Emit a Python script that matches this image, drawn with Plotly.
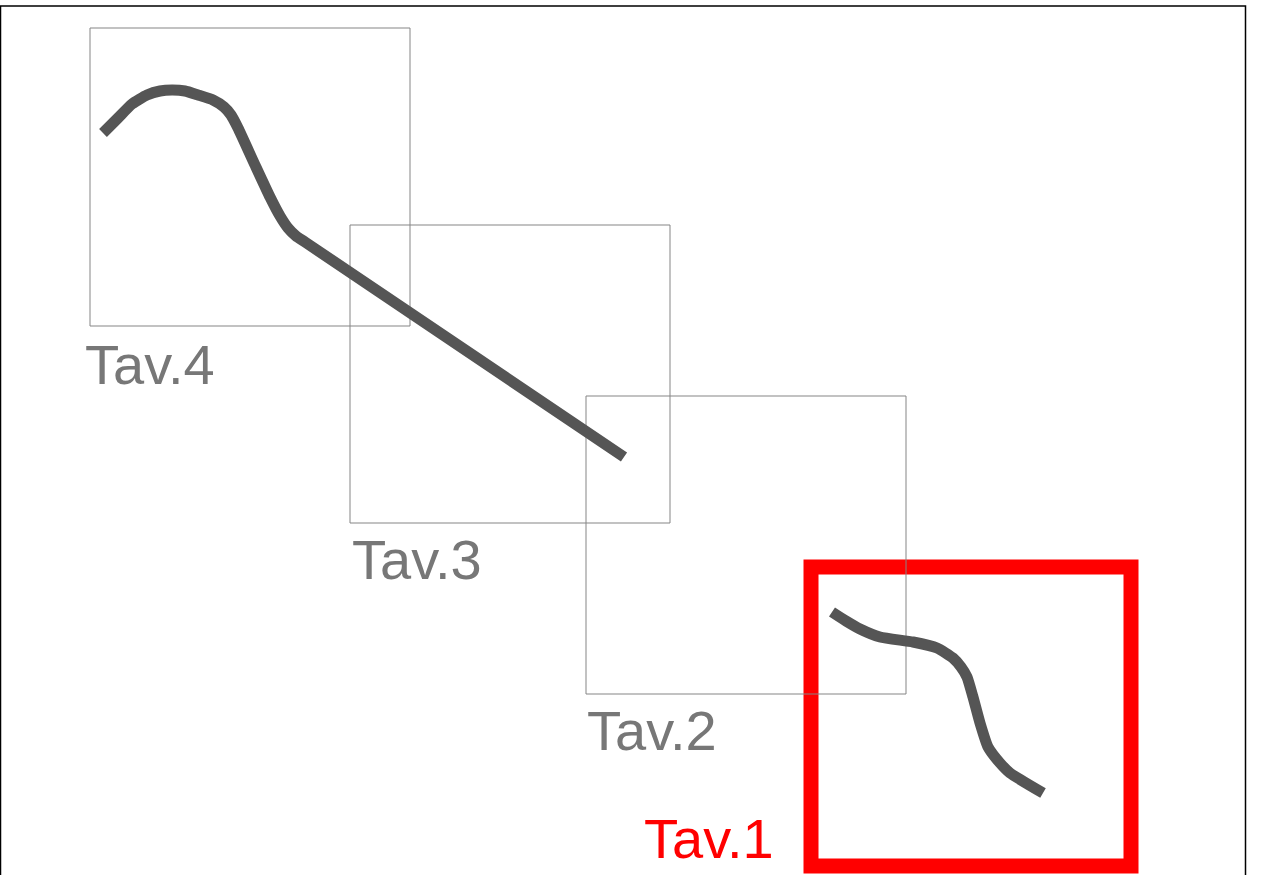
import plotly.graph_objects as go

# Map sheets (tavole): name, left, top, right, bottom in map units (y grows downward)
sheet_names = ["Tav.1", "Tav.2", "Tav.3", "Tav.4"]
sheet_x0 = [811, 586, 350, 90]
sheet_y0 = [567, 396, 225, 28]
sheet_x1 = [1131, 906, 670, 410]
sheet_y1 = [866, 694, 523, 326]
sheet_selected = [True, False, False, False]
# Label anchor points (left edge / vertical middle of the label), map units
label_x = [644, 587, 352, 85]
label_y = [838, 730, 559, 364]

# Route, first part (through Tav.4 and Tav.3)
route_a_x = [103, 118, 132, 147, 160, 172, 185, 198, 213, 224, 231, 238, 255, 270, 280, 288, 296, 305, 624]
route_a_y = [133, 118, 104, 95, 91, 90, 91, 95, 100, 107, 115, 128, 165, 197, 216, 228, 236, 242, 457]

# Route, second part (inside Tav.1)
route_b_x = [832, 846, 860, 880, 913, 937, 953, 961, 967, 973, 980, 988, 1000, 1010, 1043]
route_b_y = [612, 621, 629, 637, 642, 648, 658, 667, 677, 697, 723, 747, 763, 773, 793]

# Map frame extent
frame_x = [0.5, 1245.5]
frame_y = [6, 1000]

W, H = 1271, 875
GRAY_TXT = "#777777"
GRAY_BOX = "#858585"
RED = "#ff0000"
ROUTE = "#555555"

fig = go.Figure()
for xs, ys in [(route_a_x, route_a_y), (route_b_x, route_b_y)]:
    fig.add_trace(go.Scatter(x=xs, y=ys, mode="lines",
                             line=dict(color=ROUTE, width=11, shape="spline", smoothing=0.5),
                             hoverinfo="skip", showlegend=False))

shapes = []
annotations = []
for name, x0, y0, x1, y1, sel, lx, ly in zip(sheet_names, sheet_x0, sheet_y0, sheet_x1, sheet_y1,
                                             sheet_selected, label_x, label_y):
    shapes.append(dict(type="rect", xref="x", yref="y", x0=x0, y0=y0, x1=x1, y1=y1,
                       line=dict(color=RED if sel else GRAY_BOX, width=15 if sel else 1),
                       fillcolor="rgba(0,0,0,0)", layer="below"))
    annotations.append(dict(x=lx - 2, y=ly, xref="x", yref="y", text=name, showarrow=False,
                            xanchor="left", yanchor="middle",
                            font=dict(family="Liberation Sans, Arial, sans-serif", size=56,
                                      color=RED if sel else GRAY_TXT)))

shapes.append(dict(type="rect", xref="x", yref="y", x0=frame_x[0], x1=frame_x[1],
                   y0=frame_y[0], y1=frame_y[1], line=dict(color="#000000", width=1.5),
                   fillcolor="rgba(0,0,0,0)"))

fig.update_layout(
    width=W, height=H,
    margin=dict(l=0, r=0, t=0, b=0),
    paper_bgcolor="white", plot_bgcolor="white",
    xaxis=dict(range=[0, W], visible=False, fixedrange=True),
    yaxis=dict(range=[H, 0], visible=False, fixedrange=True),
    shapes=shapes, annotations=annotations,
    showlegend=False,
)

fig.write_html("out.html", config={"displayModeBar": False},
               post_script="document.body.style.margin='0';document.body.style.overflow='hidden';")
